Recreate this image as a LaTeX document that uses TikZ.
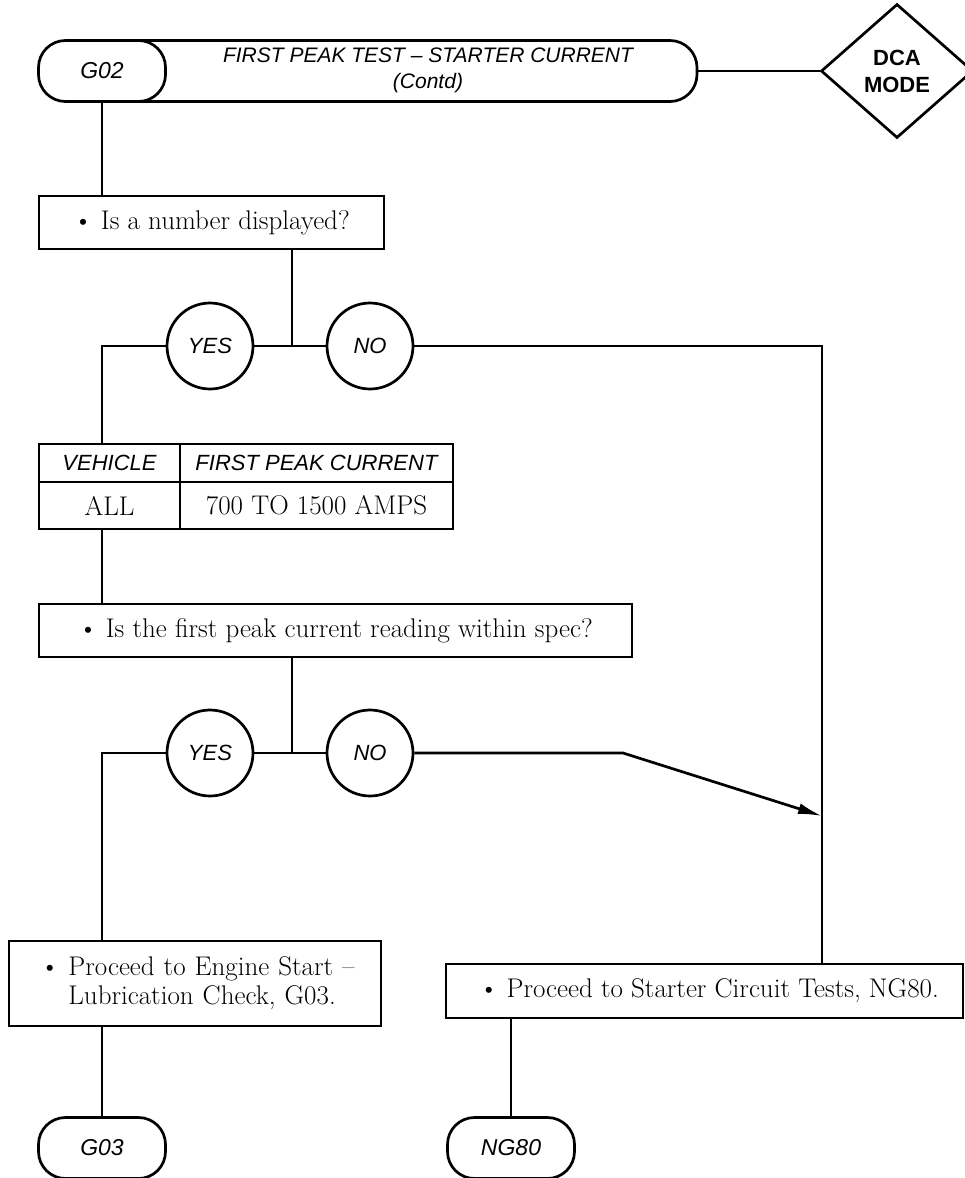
\documentclass[tikz,border=0pt]{standalone}
\usepackage{fontspec}
\usepackage{tikz}
\usetikzlibrary{shapes.geometric, arrows.meta, positioning}
\newfontfamily\tagfont{Liberation Sans}

\begin{document}
\begin{tikzpicture}[x=1pt, y=-1pt,
  line width=2.7pt,
  tag/.style={draw, fill=white, rounded corners=27pt, minimum width=127pt,
              minimum height=61pt, inner sep=0pt,
              font=\tagfont\itshape\fontsize{23}{27}\selectfont},
  stepbox/.style={draw, inner sep=0pt, font=\fontsize{27}{29}\selectfont},
  answer/.style={draw, circle, minimum size=86pt, inner sep=0pt,
              font=\tagfont\itshape\fontsize{22}{25}\selectfont},
  head/.style={draw, minimum height=38pt, inner sep=0pt,
              font=\tagfont\itshape\fontsize{22}{26}\selectfont},
  cell/.style={draw, minimum height=47pt, inner sep=0pt,
              font=\fontsize{27}{29}\selectfont},
  arr/.style={-{Latex[length=24pt,width=11pt]}}]
\useasboundingbox (0,0) rectangle (964,1178);
\node[tag, minimum width=637pt, fill=none] (titlebar) at (378.5,71) {};
\node[tag] (g02) at (102,71) {G02};
\node[align=center, font=\tagfont\itshape\fontsize{21}{26}\selectfont] (titletext) at (428,70) {FIRST PEAK TEST – STARTER CURRENT\\(Contd)};
\node[diamond, draw, minimum width=152pt, minimum height=134pt, inner sep=0pt, align=center,
      font=\tagfont\bfseries\fontsize{22}{27}\selectfont] (dca) at (897,71) {DCA\\MODE};
\node[stepbox, minimum width=345pt, minimum height=53pt] (number) at (211.5,222.5) {\textbullet\ Is a number displayed?};
\coordinate (split1) at (292,346);
\node[answer] (yes1) at (210,346) {YES};
\node[answer] (no1) at (370,346) {NO};
\coordinate (corner1) at (822,346);
\node[head, minimum width=141pt] (vehicle) at (109.5,463) {VEHICLE};
\node[head, minimum width=273pt] (peak) at (316.5,463) {FIRST PEAK CURRENT};
\node[cell, minimum width=141pt] (all) at (109.5,505.5) {ALL};
\node[cell, minimum width=273pt] (amps) at (316.5,505.5) {700 TO 1500 AMPS};
\node[stepbox, minimum width=593pt, minimum height=53pt] (spec) at (335.5,630.5) {\textbullet\ Is the first peak current reading within spec?};
\coordinate (split2) at (292,753);
\node[answer] (yes2) at (210,753) {YES};
\node[answer] (no2) at (370,753) {NO};
\coordinate (bend2) at (623,753);
\coordinate (join2) at (822,816);
\node[stepbox, minimum height=85pt, inner xsep=31pt, text width=310pt, align=left] (engine) at (195,983.5)
  {\mbox{\textbullet\ Proceed to Engine Start –}\\\mbox{\phantom{\textbullet\ }Lubrication Check, G03.}};
\node[stepbox, minimum height=54pt, inner xsep=33pt] (starter) at (704.5,991)
  {\makebox[451pt][l]{\textbullet\ Proceed to Starter Circuit Tests, NG80.}};
\node[tag] (g03) at (102,1148) {G03};
\node[tag] (ng80) at (511,1148) {NG80};
\draw (titlebar.east) -- (dca.west);
\draw (g02.south) -- (g02 |- number.north);
\draw (split1 |- number.south) -- (split1);
\draw (yes1.east) -- (no1.west);
\draw (no1.east) -- (corner1) -- (corner1 |- starter.north);
\draw (yes1.west) -| (g02 |- vehicle.north);
\draw (g02 |- all.south) -- (g02 |- spec.north);
\draw (split2 |- spec.south) -- (split2);
\draw (yes2.east) -- (no2.west);
\draw[arr] (no2.east) -- (bend2) -- (join2);
\draw (yes2.west) -| (g02 |- engine.north);
\draw (g03 |- engine.south) -- (g03);
\draw (ng80 |- starter.south) -- (ng80);
\end{tikzpicture}
\end{document}
